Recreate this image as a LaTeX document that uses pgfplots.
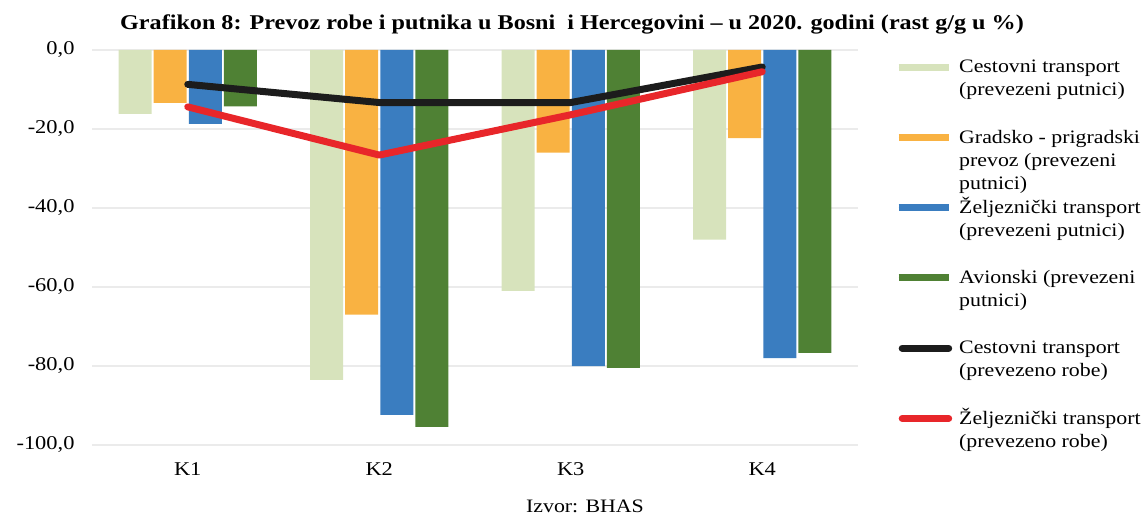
\documentclass[border=0pt]{standalone}
\usepackage{fontspec}
\setmainfont{Liberation Serif}[FakeStretch=1.15]
\usepackage{pgfplots}
\pgfplotsset{compat=1.18}
\definecolor{cLG}{RGB}{215,227,188}
\definecolor{cOR}{RGB}{249,178,66}
\definecolor{cBL}{RGB}{58,125,192}
\definecolor{cGR}{RGB}{79,129,52}
\definecolor{cBK}{RGB}{28,28,28}
\definecolor{cRD}{RGB}{232,38,42}
\newcommand{\lt}[1]{\smash{\parbox[t]{200pt}{\raggedright #1}}}
\begin{document}
\begin{tikzpicture}[x=1pt,y=1pt]
\path[use as bounding box] (0,0) rectangle (1145,515);
\begin{axis}[
  at={(92pt,70pt)}, anchor=south west,
  scale only axis, width=766pt, height=395pt,
  xmin=-0.5, xmax=3.5, ymin=-100, ymax=0,
  xtick={0,1,2,3}, xticklabels={K1,K2,K3,K4},
  ytick={-100,-80,-60,-40,-20,0},
  yticklabels={{-100,0},{-80,0},{-60,0},{-40,0},{-20,0},{0,0}},
  axis line style={draw=none},
  major tick length=0pt,
  ymajorgrids, grid style={black!8, line width=1.2pt},
  tick label style={font=\fontsize{19.5}{23}\selectfont},
  yticklabel style={xshift=-14pt},
  xticklabel style={yshift=-14pt},
  clip=false,
  legend style={at={(1.0483,0.9658)}, anchor=north west, draw=none, fill=none,
    inner sep=0pt, row sep=57.7pt, column sep=5pt,
    font=\fontsize{19}{23}\selectfont,
    cells={anchor=west, inner sep=0pt}},
  legend cell align=left,
]
\addplot[ybar, bar width=0.172, bar shift=-0.275, fill=cLG, draw=none,
  legend image code/.code={\draw[line width=7pt, cLG] (0pt,6.3pt) -- (50pt,6.3pt);}]
  coordinates {(0,-16.2) (1,-83.5) (2,-61) (3,-48)};
\addlegendentry{\lt{Cestovni transport\\(prevezeni putnici)}}
\addplot[ybar, bar width=0.172, bar shift=-0.092, fill=cOR, draw=none,
  legend image code/.code={\draw[line width=7pt, cOR] (0pt,6.3pt) -- (50pt,6.3pt);}]
  coordinates {(0,-13.4) (1,-67) (2,-26) (3,-22.3)};
\addlegendentry{\lt{Gradsko - prigradski\\prevoz (prevezeni\\putnici)}}
\addplot[ybar, bar width=0.172, bar shift=0.092, fill=cBL, draw=none,
  legend image code/.code={\draw[line width=7pt, cBL] (0pt,6.3pt) -- (50pt,6.3pt);}]
  coordinates {(0,-18.7) (1,-92.4) (2,-80) (3,-78)};
\addlegendentry{\lt{Željeznički transport\\(prevezeni putnici)}}
\addplot[ybar, bar width=0.172, bar shift=0.275, fill=cGR, draw=none,
  legend image code/.code={\draw[line width=7pt, cGR] (0pt,6.3pt) -- (50pt,6.3pt);}]
  coordinates {(0,-14.3) (1,-95.4) (2,-80.5) (3,-76.7)};
\addlegendentry{\lt{Avionski (prevezeni\\putnici)}}
\addplot[cBK, line width=7pt, line cap=round, line join=round, mark=none,
  legend image code/.code={\draw[line width=7pt, line cap=round, cBK] (3.5pt,6.3pt) -- (50pt,6.3pt);}]
  coordinates {(0,-8.7) (1,-13.3) (2,-13.3) (3,-4.3)};
\addlegendentry{\lt{Cestovni transport\\(prevezeno robe)}}
\addplot[cRD, line width=7pt, line cap=round, line join=round, mark=none,
  legend image code/.code={\draw[line width=7pt, line cap=round, cRD] (3.5pt,6.3pt) -- (50pt,6.3pt);}]
  coordinates {(0,-14.4) (1,-26.6) (2,-16.4) (3,-5.5)};
\addlegendentry{\lt{Željeznički transport\\(prevezeno robe)}}
\end{axis}
\node[font=\bfseries\fontsize{21}{25}\selectfont] at (572,491) {Grafikon 8: Prevoz robe i putnika u Bosni\ \ i Hercegovini – u 2020. godini (rast g/g u \%)};
\node[font=\fontsize{19}{23}\selectfont] at (585,9) {Izvor: BHAS};
\end{tikzpicture}
\end{document}
